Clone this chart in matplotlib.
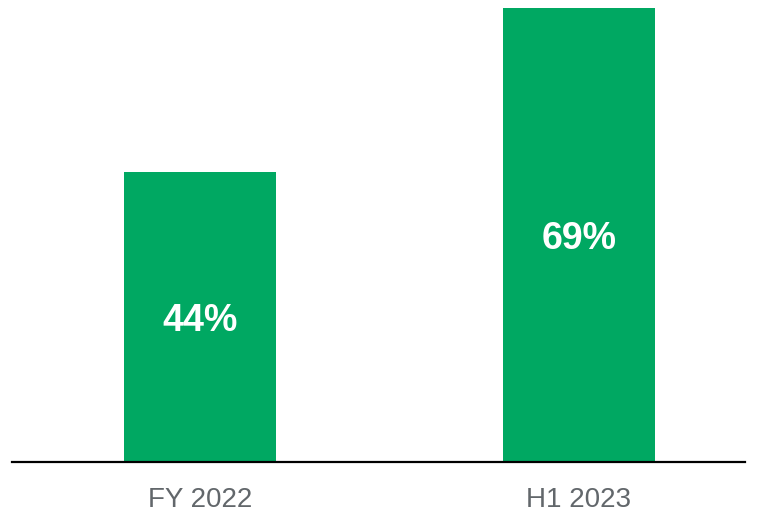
import matplotlib.pyplot as plt

# ==================================
# Data
# ==================================

categories = ["FY 2022", "H1 2023"]
values = [44, 69]
value_labels = ["44%", "69%"]

GREEN = "#00a862"
GREY = "#62676b"

plt.rcParams["font.family"] = ["Liberation Sans", "DejaVu Sans"]

# ==================================
# Figure
# ==================================

fig = plt.figure(figsize=(7.59, 5.17), dpi=100)
ax = fig.add_axes([12 / 759, 55 / 517, 733 / 759, 462 / 517])

positions = list(range(len(categories)))
bars = ax.bar(positions, values, width=0.401, color=GREEN)

for bar, label in zip(bars, value_labels):
    ax.annotate(
        label,
        (bar.get_x() + bar.get_width() / 2, bar.get_height() / 2),
        xytext=(0, -3),
        textcoords="offset points",
        ha="center",
        va="center",
        color="white",
        fontsize=27,
        fontweight="bold"
    )

ax.set_xlim(-0.496, 1.438)
ax.set_ylim(0, 70.2)

ax.set_xticks(positions)
ax.set_xticklabels(categories, color=GREY, fontsize=20)
ax.tick_params(axis="x", length=0, pad=18)
ax.set_yticks([])

for side in ["top", "right", "left"]:
    ax.spines[side].set_visible(False)
ax.spines["bottom"].set_linewidth(1.6)
ax.spines["bottom"].set_color("black")

fig.savefig("out.png", dpi=100)
